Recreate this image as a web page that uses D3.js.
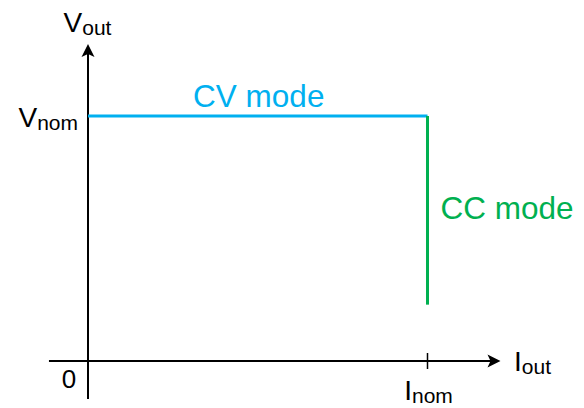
<!DOCTYPE html>
<html>
<head>
<meta charset="utf-8">
<script src="https://cdn.jsdelivr.net/npm/d3@7"></script>
<style>
  html, body { margin: 0; padding: 0; background: #fff; }
  svg { display: block; font-family: "Liberation Sans", Arial, Helvetica, sans-serif; }
</style>
</head>
<body>
<svg id="chart" width="584" height="408"></svg>
<script>
// Output characteristic of a CV/CC supply, normalised to nominal values
const modes = ["CV mode", "CC mode"];
const modeColors = ["#00b0f0", "#00b050"];
// each mode segment: start and end points as [current, voltage] (per-unit)
const cvSegment = [[0, 1], [1, 1]];
const ccSegment = [[1, 1], [1, 0.23]];
const xTickValues = [1];
const xTickLabels = ["I", "nom"];
const yTickLabels = ["V", "nom"];
const originLabel = "0";
const xAxisTitle = ["I", "out"];
const yAxisTitle = ["V", "out"];

const svg = d3.select("#chart");

const x = d3.scaleLinear().domain([0, 1]).range([88, 427.5]);
const y = d3.scaleLinear().domain([0, 1]).range([361, 116]);
const xMin = -0.115, xMax = 1.215;
const yMin = -0.155, yMax = 1.294;

// notched arrowhead pointing along +x before rotation
const arrow = (tipX, tipY, angle) =>
  svg.append("path")
    .attr("d", "M0,0 L-13,-6.5 L-10,0 L-13,6.5 Z")
    .attr("fill", "#000")
    .attr("transform", `translate(${tipX},${tipY}) rotate(${angle})`);

svg.append("line")
  .attr("x1", x(xMin)).attr("x2", x(xMax) - 8)
  .attr("y1", y(0)).attr("y2", y(0))
  .attr("stroke", "#000").attr("stroke-width", 2);
arrow(x(xMax), y(0), 0);

svg.append("line")
  .attr("x1", x(0)).attr("x2", x(0))
  .attr("y1", y(yMin)).attr("y2", y(yMax) + 8)
  .attr("stroke", "#000").attr("stroke-width", 2);
arrow(x(0), y(yMax), -90);

// tick on the current axis
svg.selectAll(".xtick").data(xTickValues).join("line")
  .attr("class", "xtick")
  .attr("x1", d => x(d)).attr("x2", d => x(d))
  .attr("y1", y(0) - 8).attr("y2", y(0) + 8)
  .attr("stroke", "#000").attr("stroke-width", 1.5);

// characteristic curve
const line = d3.line().x(d => x(d[0])).y(d => y(d[1]));
[cvSegment, ccSegment].forEach((seg, i) => {
  svg.append("path")
    .attr("d", line(seg))
    .attr("fill", "none")
    .attr("stroke", modeColors[i])
    .attr("stroke-width", 3);
});

// mode labels
svg.append("text")
  .attr("x", x((cvSegment[0][0] + cvSegment[1][0]) / 2) + 1)
  .attr("y", y(cvSegment[0][1]) - 9)
  .attr("text-anchor", "middle")
  .attr("font-size", 31.5)
  .attr("fill", modeColors[0])
  .text(modes[0]);

svg.append("text")
  .attr("x", x(ccSegment[0][0]) + 13)
  .attr("y", y(0.585) + 1)
  .attr("text-anchor", "start")
  .attr("font-size", 31.5)
  .attr("fill", modeColors[1])
  .text(modes[1]);

// labels with subscripts
function subLabel(px, py, parts, anchor) {
  const t = svg.append("text")
    .attr("x", px).attr("y", py)
    .attr("text-anchor", anchor)
    .attr("font-size", 28)
    .attr("fill", "#000");
  t.append("tspan").text(parts[0]);
  t.append("tspan").attr("font-size", 21).attr("dy", 3).text(parts[1]);
  return t;
}

subLabel(x(0) - 0.5, 32, yAxisTitle, "middle");
subLabel(x(0) - 10, y(1) + 11, yTickLabels, "end");
subLabel(514, 371, xAxisTitle, "start");
subLabel(x(xTickValues[0]) + 1, 400, xTickLabels, "middle");

svg.append("text")
  .attr("x", x(0) - 19)
  .attr("y", 388)
  .attr("text-anchor", "middle")
  .attr("font-size", 26)
  .attr("fill", "#000")
  .text(originLabel);
</script>
</body>
</html>
